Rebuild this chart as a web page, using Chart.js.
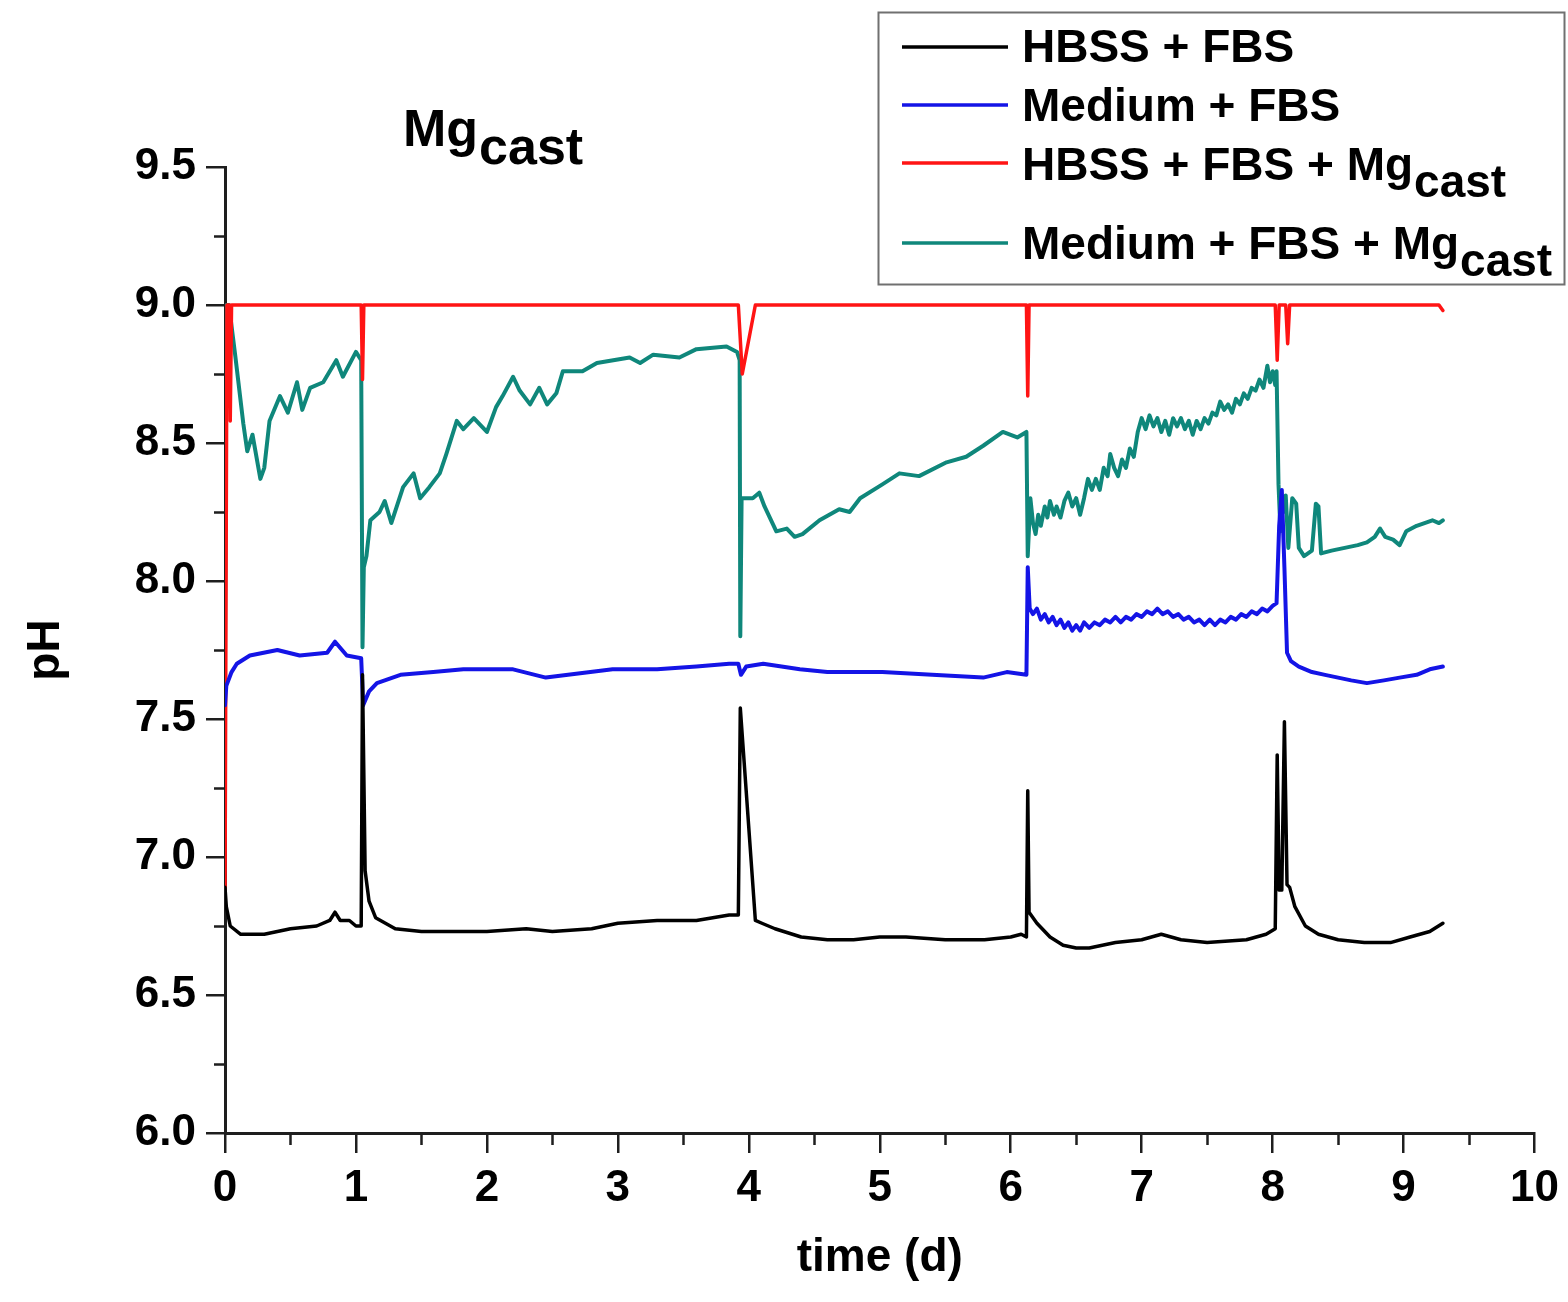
<!DOCTYPE html>
<html>
<head>
<meta charset="utf-8">
<script src="https://cdn.jsdelivr.net/npm/chart.js@4/dist/chart.umd.min.js"></script>
<style>
  html, body { margin: 0; padding: 0; background: #ffffff; }
  #wrap { width: 1568px; height: 1302px; }
</style>
</head>
<body>
<div id="wrap"><canvas id="c" width="1568" height="1302"></canvas></div>
<script>
// ---------------- data ----------------
const seriesLabels = ['HBSS + FBS', 'Medium + FBS', 'HBSS + FBS + Mg', 'Medium + FBS + Mg'];
const seriesSubs = ['', '', 'cast', 'cast'];
const titleMain = 'Mg';
const titleSub = 'cast';
const xTitle = 'time (d)';
const yTitle = 'pH';
const xTicks = [0, 1, 2, 3, 4, 5, 6, 7, 8, 9, 10];
const yTicks = [6.0, 6.5, 7.0, 7.5, 8.0, 8.5, 9.0, 9.5];

// HBSS + FBS (black)
const hbssT = [0, 0.01, 0.04, 0.12, 0.3, 0.5, 0.7, 0.8, 0.84, 0.88, 0.95, 1.0, 1.04, 1.05, 1.07, 1.1, 1.15, 1.3, 1.5, 1.8, 2.0, 2.3, 2.5, 2.8, 3.0, 3.3, 3.6, 3.85, 3.92, 3.935, 4.05, 4.1, 4.2, 4.4, 4.6, 4.8, 5.0, 5.2, 5.5, 5.8, 6.0, 6.08, 6.12, 6.13, 6.14, 6.2, 6.3, 6.4, 6.5, 6.6, 6.8, 7.0, 7.15, 7.3, 7.5, 7.8, 7.95, 8.02, 8.035, 8.05, 8.07, 8.09, 8.11, 8.13, 8.17, 8.25, 8.35, 8.5, 8.7, 8.9, 9.05, 9.2, 9.3];
const hbssV = [6.89, 6.82, 6.75, 6.72, 6.72, 6.74, 6.75, 6.77, 6.80, 6.77, 6.77, 6.75, 6.75, 7.66, 6.95, 6.84, 6.78, 6.74, 6.73, 6.73, 6.73, 6.74, 6.73, 6.74, 6.76, 6.77, 6.77, 6.79, 6.79, 7.54, 6.77, 6.76, 6.74, 6.71, 6.70, 6.70, 6.71, 6.71, 6.70, 6.70, 6.71, 6.72, 6.71, 7.24, 6.80, 6.76, 6.71, 6.68, 6.67, 6.67, 6.69, 6.70, 6.72, 6.70, 6.69, 6.70, 6.72, 6.74, 7.37, 6.88, 6.88, 7.49, 6.90, 6.89, 6.82, 6.75, 6.72, 6.70, 6.69, 6.69, 6.71, 6.73, 6.76];

// Medium + FBS (blue)
const mediumT = [0, 0.01, 0.05, 0.09, 0.19, 0.4, 0.57, 0.78, 0.84, 0.93, 1.04, 1.055, 1.1, 1.16, 1.34, 1.59, 1.82, 2.2, 2.45, 2.96, 3.3, 3.6, 3.85, 3.92, 3.94, 3.98, 4.11, 4.39, 4.6, 5.02, 5.4, 5.79, 5.97, 6.12, 6.13, 6.145, 6.17, 6.2, 6.23, 6.26, 6.29, 6.32, 6.35, 6.38, 6.41, 6.44, 6.47, 6.5, 6.53, 6.56, 6.6, 6.64, 6.68, 6.72, 6.76, 6.8, 6.84, 6.88, 6.92, 6.96, 7.0, 7.04, 7.08, 7.12, 7.16, 7.2, 7.24, 7.28, 7.32, 7.36, 7.4, 7.44, 7.48, 7.52, 7.56, 7.6, 7.64, 7.68, 7.72, 7.76, 7.8, 7.84, 7.88, 7.92, 7.96, 8.0, 8.03, 8.05, 8.07, 8.09, 8.11, 8.14, 8.2, 8.3, 8.4, 8.5, 8.6, 8.72, 8.85, 8.97, 9.1, 9.2, 9.3];
const mediumV = [7.55, 7.62, 7.67, 7.70, 7.73, 7.75, 7.73, 7.74, 7.78, 7.73, 7.72, 7.55, 7.60, 7.63, 7.66, 7.67, 7.68, 7.68, 7.65, 7.68, 7.68, 7.69, 7.70, 7.70, 7.66, 7.69, 7.70, 7.68, 7.67, 7.67, 7.66, 7.65, 7.67, 7.66, 8.05, 7.90, 7.88, 7.90, 7.86, 7.88, 7.85, 7.87, 7.84, 7.86, 7.83, 7.85, 7.82, 7.84, 7.82, 7.85, 7.83, 7.85, 7.84, 7.86, 7.85, 7.87, 7.85, 7.87, 7.86, 7.88, 7.87, 7.89, 7.88, 7.90, 7.88, 7.89, 7.87, 7.88, 7.86, 7.87, 7.85, 7.86, 7.84, 7.86, 7.84, 7.86, 7.85, 7.87, 7.86, 7.88, 7.87, 7.89, 7.88, 7.90, 7.89, 7.91, 7.92, 8.20, 8.33, 8.05, 7.74, 7.71, 7.69, 7.67, 7.66, 7.65, 7.64, 7.63, 7.64, 7.65, 7.66, 7.68, 7.69];

// HBSS + FBS + Mg_cast (red)
const hbssMgT = [0, 0.015, 0.035, 0.04, 0.05, 1.04, 1.05, 1.06, 3.92, 3.95, 4.05, 6.12, 6.13, 6.14, 8.02, 8.035, 8.05, 8.1, 8.115, 8.13, 9.27, 9.3];
const hbssMgV = [6.82, 9.0, 9.0, 8.58, 9.0, 9.0, 8.73, 9.0, 9.0, 8.75, 9.0, 9.0, 8.67, 9.0, 9.0, 8.8, 9.0, 9.0, 8.86, 9.0, 9.0, 8.98];

// Medium + FBS + Mg_cast (teal)
const mediumMgT = [0, 0.01, 0.03, 0.08, 0.14, 0.17, 0.21, 0.27, 0.3, 0.34, 0.42, 0.48, 0.55, 0.59, 0.65, 0.75, 0.85, 0.9, 1.0, 1.04, 1.05, 1.06, 1.08, 1.11, 1.18, 1.22, 1.27, 1.36, 1.44, 1.49, 1.56, 1.64, 1.69, 1.77, 1.82, 1.9, 2.0, 2.07, 2.12, 2.2, 2.25, 2.33, 2.4, 2.46, 2.53, 2.58, 2.73, 2.84, 3.09, 3.17, 3.27, 3.47, 3.6, 3.83, 3.91, 3.93, 3.935, 3.945, 4.03, 4.08, 4.12, 4.21, 4.29, 4.35, 4.41, 4.54, 4.69, 4.77, 4.85, 5.02, 5.15, 5.3, 5.51, 5.66, 5.79, 5.94, 6.05, 6.12, 6.13, 6.15, 6.17, 6.19, 6.21, 6.23, 6.26, 6.28, 6.3, 6.33, 6.35, 6.38, 6.41, 6.44, 6.47, 6.5, 6.53, 6.56, 6.59, 6.62, 6.65, 6.68, 6.71, 6.74, 6.76, 6.79, 6.82, 6.85, 6.88, 6.91, 6.94, 6.97, 7.0, 7.03, 7.06, 7.09, 7.12, 7.15, 7.18, 7.21, 7.24, 7.27, 7.3, 7.33, 7.36, 7.39, 7.42, 7.45, 7.48, 7.51, 7.54, 7.57, 7.6, 7.63, 7.66, 7.69, 7.72, 7.75, 7.78, 7.81, 7.84, 7.87, 7.9, 7.93, 7.96, 7.98, 8.0, 8.02, 8.03, 8.045, 8.06, 8.08, 8.095, 8.1, 8.12, 8.15, 8.18, 8.2, 8.24, 8.27, 8.3, 8.33, 8.35, 8.37, 8.45, 8.55, 8.65, 8.72, 8.78, 8.82, 8.86, 8.92, 8.97, 9.02, 9.1, 9.16, 9.22, 9.27, 9.3];
const mediumMgV = [7.72, 9.0, 9.0, 8.81, 8.57, 8.47, 8.53, 8.37, 8.41, 8.58, 8.67, 8.61, 8.72, 8.62, 8.70, 8.72, 8.80, 8.74, 8.83, 8.80, 7.76, 8.05, 8.09, 8.22, 8.25, 8.29, 8.21, 8.34, 8.39, 8.30, 8.34, 8.39, 8.46, 8.58, 8.55, 8.59, 8.54, 8.63, 8.67, 8.74, 8.69, 8.64, 8.70, 8.64, 8.68, 8.76, 8.76, 8.79, 8.81, 8.79, 8.82, 8.81, 8.84, 8.85, 8.83, 8.80, 7.80, 8.30, 8.30, 8.32, 8.27, 8.18, 8.19, 8.16, 8.17, 8.22, 8.26, 8.25, 8.30, 8.35, 8.39, 8.38, 8.43, 8.45, 8.49, 8.54, 8.52, 8.54, 8.09, 8.30, 8.21, 8.17, 8.24, 8.20, 8.27, 8.23, 8.29, 8.24, 8.27, 8.23, 8.29, 8.32, 8.27, 8.30, 8.24, 8.30, 8.37, 8.33, 8.37, 8.33, 8.41, 8.38, 8.46, 8.41, 8.38, 8.44, 8.41, 8.48, 8.45, 8.54, 8.59, 8.55, 8.60, 8.56, 8.59, 8.54, 8.58, 8.53, 8.59, 8.56, 8.59, 8.55, 8.58, 8.53, 8.58, 8.55, 8.59, 8.57, 8.61, 8.60, 8.65, 8.62, 8.64, 8.61, 8.66, 8.64, 8.68, 8.66, 8.70, 8.69, 8.73, 8.70, 8.78, 8.72, 8.76, 8.71, 8.76, 8.35, 8.18, 8.30, 8.25, 8.31, 8.12, 8.30, 8.28, 8.12, 8.09, 8.10, 8.11, 8.28, 8.27, 8.10, 8.11, 8.12, 8.13, 8.14, 8.16, 8.19, 8.16, 8.15, 8.13, 8.18, 8.20, 8.21, 8.22, 8.21, 8.22];

const seriesColors = ['#000000', '#1414e6', '#ff1414', '#0f877b'];

// ---------------- chart ----------------
function pts(t, v) { return t.map((x, i) => ({ x: x, y: v[i] })); }

const FONT = '"Liberation Sans", Arial, Helvetica, sans-serif';
const AXIS_COLOR = '#1e1e1e';

const extrasPlugin = {
  id: 'extras',
  afterDraw(chart) {
    const ctx = chart.ctx;
    const xs = chart.scales.x, ys = chart.scales.y;
    ctx.save();
    // minor ticks
    ctx.strokeStyle = AXIS_COLOR;
    ctx.lineWidth = 2.5;
    ctx.beginPath();
    for (let i = 0; i < xTicks.length - 1; i++) {
      const v = (xTicks[i] + xTicks[i + 1]) / 2;
      const px = Math.round(xs.getPixelForValue(v)) + 0.5;
      ctx.moveTo(px, ys.bottom);
      ctx.lineTo(px, ys.bottom + 12);
    }
    for (let i = 0; i < yTicks.length - 1; i++) {
      const v = (yTicks[i] + yTicks[i + 1]) / 2;
      const py = Math.round(ys.getPixelForValue(v)) + 0.5;
      ctx.moveTo(xs.left, py);
      ctx.lineTo(xs.left - 11, py);
    }
    ctx.stroke();

    // title Mg_cast
    ctx.fillStyle = '#000';
    ctx.textBaseline = 'alphabetic';
    ctx.textAlign = 'left';
    ctx.font = 'bold 52px ' + FONT;
    const tx = 403, tBase = 146;
    ctx.fillText(titleMain, tx, tBase);
    const w = ctx.measureText(titleMain).width;
    ctx.fillText(titleSub, tx + w + 1, tBase + 18);

    // legend box
    const bx = 878, by = 12, bw = 687, bh = 273;
    ctx.fillStyle = '#ffffff';
    ctx.fillRect(bx, by, bw, bh);
    ctx.strokeStyle = '#707070';
    ctx.lineWidth = 2;
    ctx.strokeRect(bx + 0.5, by + 0.5, bw - 1, bh - 1);
    const lineYs = [47, 105, 163, 243];
    const baseYs = [62, 121, 180, 259];
    ctx.font = 'bold 46px ' + FONT;
    for (let i = 0; i < seriesLabels.length; i++) {
      ctx.strokeStyle = seriesColors[i];
      ctx.lineWidth = 3.5;
      ctx.beginPath();
      ctx.moveTo(902, lineYs[i]);
      ctx.lineTo(1008, lineYs[i]);
      ctx.stroke();
      ctx.fillStyle = '#000';
      ctx.fillText(seriesLabels[i], 1022, baseYs[i]);
      if (seriesSubs[i]) {
        const lw = ctx.measureText(seriesLabels[i]).width;
        ctx.fillText(seriesSubs[i], 1022 + lw + 1, baseYs[i] + 17);
      }
    }
    ctx.restore();
  }
};

const datasets = [
  { label: seriesLabels[0], data: pts(hbssT, hbssV), borderColor: seriesColors[0], borderWidth: 3.5 },
  { label: seriesLabels[1], data: pts(mediumT, mediumV), borderColor: seriesColors[1], borderWidth: 4 },
  { label: seriesLabels[2] + seriesSubs[2], data: pts(hbssMgT, hbssMgV), borderColor: seriesColors[2], borderWidth: 3.5 },
  { label: seriesLabels[3] + seriesSubs[3], data: pts(mediumMgT, mediumMgV), borderColor: seriesColors[3], borderWidth: 4 }
].map(d => Object.assign(d, { pointRadius: 0, tension: 0, fill: false, borderJoinStyle: 'round', borderCapStyle: 'round' }));

new Chart(document.getElementById('c'), {
  type: 'line',
  data: { datasets },
  options: {
    responsive: false,
    animation: false,
    devicePixelRatio: 1,
    layout: { padding: { top: 167, right: 33, left: 0, bottom: 0 } },
    plugins: { legend: { display: false }, title: { display: false }, tooltip: { enabled: false } },
    scales: {
      x: {
        type: 'linear',
        min: 0, max: 10,
        afterBuildTicks(s) { s.ticks = xTicks.map(v => ({ value: v })); },
        afterFit(s) { s.height = 169; },
        ticks: {
          autoSkip: false,
          maxRotation: 0,
          padding: 9,
          color: '#000',
          font: { family: FONT, size: 44, weight: 'bold' },
          callback: v => String(v)
        },
        grid: { display: true, drawOnChartArea: false, drawTicks: true, tickLength: 20, color: AXIS_COLOR, lineWidth: 2.5 },
        border: { display: true, color: AXIS_COLOR, width: 3 },
        title: { display: true, text: xTitle, color: '#000', font: { family: FONT, size: 46, weight: 'bold' }, padding: { top: 0, bottom: 16 } }
      },
      y: {
        type: 'linear',
        min: 6, max: 9.5,
        afterBuildTicks(s) { s.ticks = yTicks.map(v => ({ value: v })); },
        afterFit(s) { s.width = 225; },
        ticks: {
          padding: 10,
          color: '#000',
          font: { family: FONT, size: 44, weight: 'bold' },
          callback: v => Number(v).toFixed(1)
        },
        grid: { display: true, drawOnChartArea: false, drawTicks: true, tickLength: 19, color: AXIS_COLOR, lineWidth: 2.5 },
        border: { display: true, color: AXIS_COLOR, width: 3 },
        title: { display: true, text: yTitle, color: '#000', font: { family: FONT, size: 46, weight: 'bold' }, padding: { top: 19, bottom: 0 } }
      }
    }
  },
  plugins: [extrasPlugin]
});
</script>
</body>
</html>
